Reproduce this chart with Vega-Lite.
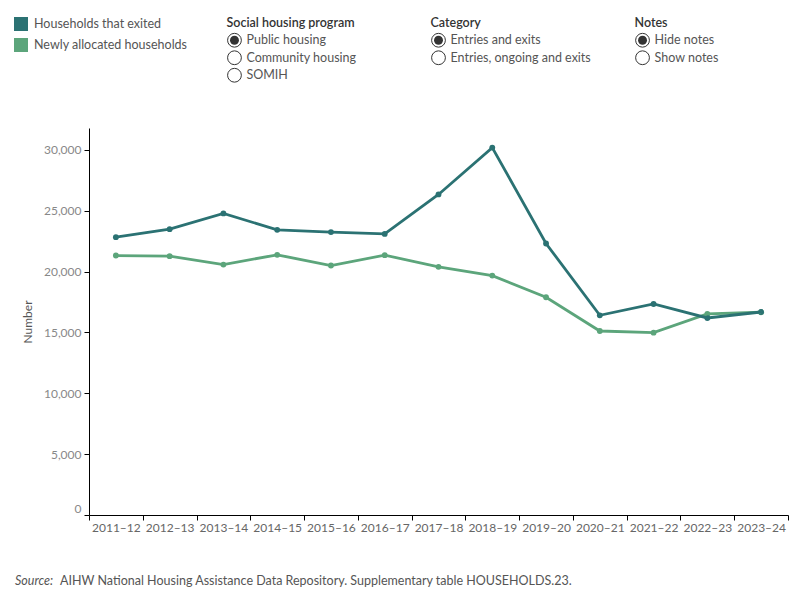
{
  "$schema": "https://vega.github.io/schema/vega-lite/v6.json",
  "autosize": {"type": "pad"},
  "padding": {"left": 14, "top": 14, "right": 12, "bottom": 10},
  "background": "white",
  "config": {
    "font": "Lato",
    "view": {"stroke": null}
  },
  "bounds": "flush",
  "spacing": 44,
  "vconcat": [
    {
      "width": 699,
      "height": 70,
      "data": {
        "values": [
          {"group": "Social housing program", "item": "Public housing", "rank": 1, "selected": true},
          {"group": "Social housing program", "item": "Community housing", "rank": 2, "selected": false},
          {"group": "Social housing program", "item": "SOMIH", "rank": 3, "selected": false},
          {"group": "Category", "item": "Entries and exits", "rank": 1, "selected": true},
          {"group": "Category", "item": "Entries, ongoing and exits", "rank": 2, "selected": false},
          {"group": "Notes", "item": "Hide notes", "rank": 1, "selected": true},
          {"group": "Notes", "item": "Show notes", "rank": 2, "selected": false}
        ]
      },
      "encoding": {
        "x": {"field": "group", "type": "nominal", "sort": null, "scale": {"type": "point", "padding": 0.713}, "axis": null},
        "y": {"field": "rank", "type": "ordinal", "scale": {"type": "point", "domain": [0, 1, 2, 3], "padding": 0.5}, "axis": null}
      },
      "layer": [
        {
          "transform": [{"filter": "datum.rank === 1"}],
          "mark": {"type": "text", "align": "left", "baseline": "middle", "dx": -8, "fontSize": 12.5, "fontWeight": 600, "color": "#333333"},
          "encoding": {"y": {"datum": 0, "type": "ordinal"}, "text": {"field": "group"}}
        },
        {
          "mark": {"type": "point", "shape": "circle", "filled": false, "size": 190, "color": "#333333", "strokeWidth": 1, "opacity": 1}
        },
        {
          "transform": [{"filter": "datum.selected"}],
          "mark": {"type": "point", "shape": "circle", "filled": true, "size": 80, "color": "#333333", "opacity": 1}
        },
        {
          "mark": {"type": "text", "align": "left", "baseline": "middle", "dx": 12, "fontSize": 12.5, "color": "#555555"},
          "encoding": {"text": {"field": "item"}}
        }
      ]
    },
    {
      "width": 699,
      "height": 387,
      "data": {
        "values": [
          {"year": "2011–12", "series": "Newly allocated households", "value": 21320},
          {"year": "2012–13", "series": "Newly allocated households", "value": 21270},
          {"year": "2013–14", "series": "Newly allocated households", "value": 20580},
          {"year": "2014–15", "series": "Newly allocated households", "value": 21380},
          {"year": "2015–16", "series": "Newly allocated households", "value": 20500},
          {"year": "2016–17", "series": "Newly allocated households", "value": 21350},
          {"year": "2017–18", "series": "Newly allocated households", "value": 20390},
          {"year": "2018–19", "series": "Newly allocated households", "value": 19670},
          {"year": "2019–20", "series": "Newly allocated households", "value": 17890},
          {"year": "2020–21", "series": "Newly allocated households", "value": 15120},
          {"year": "2021–22", "series": "Newly allocated households", "value": 14980},
          {"year": "2022–23", "series": "Newly allocated households", "value": 16520},
          {"year": "2023–24", "series": "Newly allocated households", "value": 16660},
          {"year": "2011–12", "series": "Households that exited", "value": 22830},
          {"year": "2012–13", "series": "Households that exited", "value": 23490},
          {"year": "2013–14", "series": "Households that exited", "value": 24780},
          {"year": "2014–15", "series": "Households that exited", "value": 23430},
          {"year": "2015–16", "series": "Households that exited", "value": 23250},
          {"year": "2016–17", "series": "Households that exited", "value": 23100},
          {"year": "2017–18", "series": "Households that exited", "value": 26340},
          {"year": "2018–19", "series": "Households that exited", "value": 30190},
          {"year": "2019–20", "series": "Households that exited", "value": 22310},
          {"year": "2020–21", "series": "Households that exited", "value": 16410},
          {"year": "2021–22", "series": "Households that exited", "value": 17340},
          {"year": "2022–23", "series": "Households that exited", "value": 16190},
          {"year": "2023–24", "series": "Households that exited", "value": 16680}
        ]
      },
      "encoding": {
        "x": {
          "field": "year", "type": "ordinal", "sort": null,
          "scale": {"type": "band", "paddingInner": 0, "paddingOuter": 0},
          "axis": {
            "title": null, "labelAngle": 0, "tickBand": "extent",
            "labelFontSize": 12, "labelColor": "#666666", "labelPadding": 2,
            "tickSize": 5, "tickColor": "#000000", "domainColor": "#000000"
          }
        },
        "y": {
          "field": "value", "type": "quantitative",
          "scale": {"domain": [0, 31800], "nice": false},
          "axis": {
            "title": "Number", "values": [0, 5000, 10000, 15000, 20000, 25000, 30000],
            "format": ",.0f", "grid": false, "labelFlush": true,
            "labelFontSize": 12, "labelColor": "#888888", "labelPadding": 3,
            "tickSize": 5, "tickColor": "#000000", "domainColor": "#000000",
            "titleFontSize": 12, "titleFontWeight": "normal", "titleColor": "#555555", "titlePadding": 9
          }
        },
        "color": {
          "field": "series", "type": "nominal",
          "scale": {
            "domain": ["Households that exited", "Newly allocated households"],
            "range": ["#2b7273", "#5ca57b"]
          },
          "legend": {
            "orient": "none", "legendX": -75, "legendY": 3, "title": null,
            "symbolType": "square", "symbolSize": 196, "symbolStrokeWidth": 0, "symbolOpacity": 1,
            "labelFontSize": 12.5, "labelColor": "#555555", "labelOffset": 6,
            "rowPadding": 7, "padding": 0
          }
        }
      },
      "layer": [
        {
          "mark": {"type": "point", "filled": true, "size": 34, "opacity": 1}
        },
        {
          "mark": {"type": "line", "strokeWidth": 2.8}
        }
      ]
    },
    {
      "width": 699,
      "height": 44,
      "data": {
        "values": [
          {"note": "Source:", "body": "AIHW National Housing Assistance Data Repository. Supplementary table HOUSEHOLDS.23."}
        ]
      },
      "encoding": {
        "x": {"datum": 0, "type": "quantitative", "scale": {"domain": [0, 1]}, "axis": null}
      },
      "layer": [
        {
          "mark": {"type": "text", "align": "left", "baseline": "middle", "dx": -74, "fontStyle": "italic", "fontSize": 12.5, "color": "#555555"},
          "encoding": {"text": {"field": "note"}}
        },
        {
          "mark": {"type": "text", "align": "left", "baseline": "middle", "dx": -29, "fontSize": 12.5, "color": "#555555"},
          "encoding": {"text": {"field": "body"}}
        }
      ]
    }
  ]
}
